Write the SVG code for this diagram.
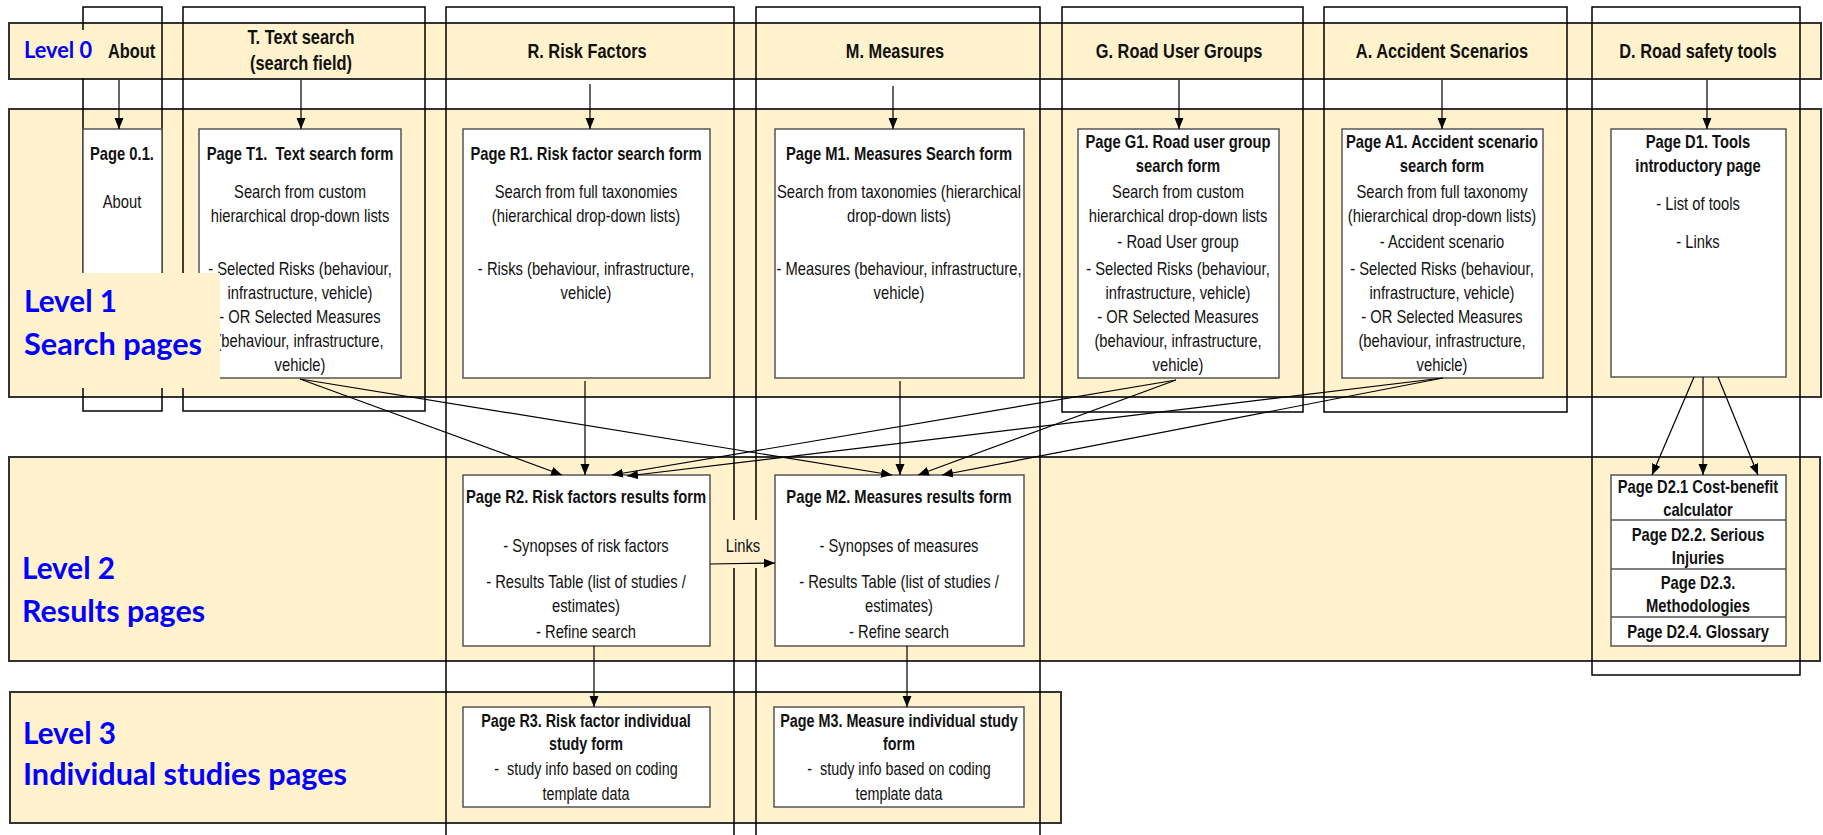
<svg xmlns="http://www.w3.org/2000/svg" width="1823" height="835" viewBox="0 0 1823 835">
<defs>
<marker id="ah" markerUnits="userSpaceOnUse" markerWidth="12" markerHeight="10" refX="11" refY="4.5" orient="auto">
<path d="M0,0 L11,4.5 L0,9 z" fill="#000"/>
</marker>
<style>
.band{fill:#FFF2CC;stroke:#333;stroke-width:2}
.col{fill:none;stroke:#000;stroke-width:1.5}
.box{fill:#fff;stroke:#555;stroke-width:1.5}
.cover{fill:#FFF2CC;stroke:none}
.t{font-family:"Liberation Sans Narrow","Liberation Sans",Arial,sans-serif;font-size:18px;text-anchor:middle;fill:#111}
.b{font-weight:bold}
.hd{font-family:"Liberation Sans Narrow","Liberation Sans",Arial,sans-serif;font-size:20px;font-weight:bold;text-anchor:middle;fill:#111}
.s3{font-size:17.5px}
.lvl{font-family:Lato,"Open Sans","Liberation Sans",sans-serif;font-weight:bold;font-size:30px;fill:#0000FF}
.pre{white-space:pre}
.cn{fill:none;stroke:#000;stroke-width:1.2;marker-end:url(#ah)}
</style>
</defs>
<rect width="1823" height="835" fill="#fff"/>
<g id="bands">
<rect class="band" x="9" y="23" width="1812" height="56"/>
<rect class="band" x="9" y="109" width="1812" height="288"/>
<rect class="band" x="9" y="457" width="1811" height="204"/>
<rect class="band" x="10" y="692" width="1051" height="131"/>
</g>
<g id="columns">
<rect class="col" x="83" y="7" width="79" height="404"/>
<rect class="col" x="183" y="7" width="242" height="404"/>
<rect class="col" x="446" y="7" width="288" height="840"/>
<rect class="col" x="756" y="7" width="284" height="840"/>
<rect class="col" x="1062" y="7" width="241" height="405"/>
<rect class="col" x="1324" y="7" width="243" height="405"/>
<rect class="col" x="1592" y="7" width="208" height="668"/>
</g>
<g id="headers">
<g transform="translate(108 0) scale(0.82 1)"><text class="hd" x="0" y="58" style="text-anchor:start">About</text></g>
<g transform="translate(301 0) scale(0.82 1)"><text class="hd" x="0" y="44">T. Text search</text><text class="hd" x="0" y="70">(search field)</text></g>
<g transform="translate(587 0) scale(0.82 1)"><text class="hd" x="0" y="58">R. Risk Factors</text></g>
<g transform="translate(895 0) scale(0.82 1)"><text class="hd" x="0" y="58">M. Measures</text></g>
<g transform="translate(1179 0) scale(0.82 1)"><text class="hd" x="0" y="58">G. Road User Groups</text></g>
<g transform="translate(1442 0) scale(0.82 1)"><text class="hd" x="0" y="58">A. Accident Scenarios</text></g>
<g transform="translate(1698 0) scale(0.82 1)"><text class="hd" x="0" y="58">D. Road safety tools</text></g>
</g>
<g id="page01">
<rect class="box" x="83" y="129" width="79" height="249"/>
<g transform="translate(122 0) scale(0.82 1)">
<text class="t b" x="0" y="160">Page 0.1.</text>
<text class="t" x="0" y="208">About</text>
</g>
</g>
<g id="pageT1">
<rect class="box" x="199" y="129" width="202" height="249"/>
<g transform="translate(300 0) scale(0.82 1)">
<text class="t b pre" x="0" y="160">Page T1.  Text search form</text>
<text class="t" x="0" y="198">Search from custom</text>
<text class="t" x="0" y="222">hierarchical drop-down lists</text>
<text class="t" x="0" y="275">- Selected Risks (behaviour,</text>
<text class="t" x="0" y="299">infrastructure, vehicle)</text>
<text class="t" x="0" y="323">- OR Selected Measures</text>
<text class="t" x="0" y="347">(behaviour, infrastructure,</text>
<text class="t" x="0" y="371">vehicle)</text>
</g>
</g>
<g id="pageR1">
<rect class="box" x="463" y="129" width="247" height="249"/>
<g transform="translate(586 0) scale(0.82 1)">
<text class="t b" x="0" y="160">Page R1. Risk factor search form</text>
<text class="t" x="0" y="198">Search from full taxonomies</text>
<text class="t" x="0" y="222">(hierarchical drop-down lists)</text>
<text class="t" x="0" y="275">- Risks (behaviour, infrastructure,</text>
<text class="t" x="0" y="299">vehicle)</text>
</g>
</g>
<g id="pageM1">
<rect class="box" x="775" y="129" width="249" height="249"/>
<g transform="translate(899 0) scale(0.82 1)">
<text class="t b" x="0" y="160">Page M1. Measures Search form</text>
<text class="t" x="0" y="198">Search from taxonomies (hierarchical</text>
<text class="t" x="0" y="222">drop-down lists)</text>
<text class="t" x="0" y="275">- Measures (behaviour, infrastructure,</text>
<text class="t" x="0" y="299">vehicle)</text>
</g>
</g>
<g id="pageG1">
<rect class="box" x="1078" y="129" width="201" height="249"/>
<g transform="translate(1178 0) scale(0.82 1)">
<text class="t b" x="0" y="148">Page G1. Road user group</text>
<text class="t b" x="0" y="172">search form</text>
<text class="t" x="0" y="198">Search from custom</text>
<text class="t" x="0" y="222">hierarchical drop-down lists</text>
<text class="t" x="0" y="248">- Road User group</text>
<text class="t" x="0" y="275">- Selected Risks (behaviour,</text>
<text class="t" x="0" y="299">infrastructure, vehicle)</text>
<text class="t" x="0" y="323">- OR Selected Measures</text>
<text class="t" x="0" y="347">(behaviour, infrastructure,</text>
<text class="t" x="0" y="371">vehicle)</text>
</g>
</g>
<g id="pageA1">
<rect class="box" x="1342" y="129" width="201" height="249"/>
<g transform="translate(1442 0) scale(0.82 1)">
<text class="t b" x="0" y="148">Page A1. Accident scenario</text>
<text class="t b" x="0" y="172">search form</text>
<text class="t" x="0" y="198">Search from full taxonomy</text>
<text class="t" x="0" y="222">(hierarchical drop-down lists)</text>
<text class="t" x="0" y="248">- Accident scenario</text>
<text class="t" x="0" y="275">- Selected Risks (behaviour,</text>
<text class="t" x="0" y="299">infrastructure, vehicle)</text>
<text class="t" x="0" y="323">- OR Selected Measures</text>
<text class="t" x="0" y="347">(behaviour, infrastructure,</text>
<text class="t" x="0" y="371">vehicle)</text>
</g>
</g>
<g id="pageD1">
<rect class="box" x="1611" y="129" width="175" height="248"/>
<g transform="translate(1698 0) scale(0.82 1)">
<text class="t b" x="0" y="148">Page D1. Tools</text>
<text class="t b" x="0" y="172">introductory page</text>
<text class="t" x="0" y="210">- List of tools</text>
<text class="t" x="0" y="248">- Links</text>
</g>
</g>
<g id="pageR2">
<rect class="box" x="463" y="475" width="247" height="171"/>
<g transform="translate(586 0) scale(0.82 1)">
<text class="t b" x="0" y="503">Page R2. Risk factors results form</text>
<text class="t" x="0" y="552">- Synopses of risk factors</text>
<text class="t" x="0" y="588">- Results Table (list of studies /</text>
<text class="t" x="0" y="612">estimates)</text>
<text class="t" x="0" y="638">- Refine search</text>
</g>
</g>
<g id="pageM2">
<rect class="box" x="775" y="475" width="249" height="171"/>
<g transform="translate(899 0) scale(0.82 1)">
<text class="t b" x="0" y="503">Page M2. Measures results form</text>
<text class="t" x="0" y="552">- Synopses of measures</text>
<text class="t" x="0" y="588">- Results Table (list of studies /</text>
<text class="t" x="0" y="612">estimates)</text>
<text class="t" x="0" y="638">- Refine search</text>
</g>
</g>
<g id="pageD2">
<rect class="box" x="1611" y="475" width="175" height="171"/>
<line x1="1611" y1="520" x2="1786" y2="520" stroke="#555" stroke-width="1.5"/>
<line x1="1611" y1="569" x2="1786" y2="569" stroke="#555" stroke-width="1.5"/>
<line x1="1611" y1="617" x2="1786" y2="617" stroke="#555" stroke-width="1.5"/>
<g transform="translate(1698 0) scale(0.82 1)">
<text class="t b" x="0" y="493">Page D2.1 Cost-benefit</text>
<text class="t b" x="0" y="516">calculator</text>
<text class="t b" x="0" y="541">Page D2.2. Serious</text>
<text class="t b" x="0" y="564">Injuries</text>
<text class="t b" x="0" y="589">Page D2.3.</text>
<text class="t b" x="0" y="612">Methodologies</text>
<text class="t b" x="0" y="638">Page D2.4. Glossary</text>
</g>
</g>
<g id="pageR3">
<rect class="box" x="463" y="707" width="247" height="100"/>
<g transform="translate(586 0) scale(0.82 1)">
<text class="t b s3" x="0" y="727">Page R3. Risk factor individual</text>
<text class="t b s3" x="0" y="750">study form</text>
<text class="t s3 pre" x="0" y="775">-  study info based on coding</text>
<text class="t s3" x="0" y="800">template data</text>
</g>
</g>
<g id="pageM3">
<rect class="box" x="774" y="707" width="250" height="100"/>
<g transform="translate(899 0) scale(0.82 1)">
<text class="t b s3" x="0" y="727">Page M3. Measure individual study</text>
<text class="t b s3" x="0" y="750">form</text>
<text class="t s3 pre" x="0" y="775">-  study info based on coding</text>
<text class="t s3" x="0" y="800">template data</text>
</g>
</g>
<g id="level0">
<rect class="cover" x="10" y="30" width="92" height="48"/>
<text class="lvl" x="24" y="58" style="font-size:22px" textLength="68" lengthAdjust="spacingAndGlyphs">Level 0</text>
</g>
<g id="level1">
<rect class="cover" x="10" y="273" width="210" height="115"/>
<text class="lvl" x="24" y="312" textLength="93" lengthAdjust="spacingAndGlyphs">Level 1</text>
<text class="lvl" x="24" y="355" textLength="178" lengthAdjust="spacingAndGlyphs">Search pages</text>
</g>
<g id="level2">
<text class="lvl" x="22" y="579" textLength="93" lengthAdjust="spacingAndGlyphs">Level 2</text>
<text class="lvl" x="22" y="622" textLength="183" lengthAdjust="spacingAndGlyphs">Results pages</text>
</g>
<g id="level3">
<text class="lvl" x="23" y="744" textLength="93" lengthAdjust="spacingAndGlyphs">Level 3</text>
<text class="lvl" x="23" y="785" textLength="324" lengthAdjust="spacingAndGlyphs">Individual studies pages</text>
</g>
<g id="links">
<rect class="cover" x="722" y="520" width="42" height="48"/>
<g transform="translate(743 0) scale(0.82 1)"><text class="t" x="0" y="552">Links</text></g>
</g>
<g id="connectors">
<line class="cn" x1="119" y1="80" x2="119" y2="129"/>
<line class="cn" x1="301" y1="80" x2="301" y2="129"/>
<line class="cn" x1="590" y1="84" x2="590" y2="129"/>
<line class="cn" x1="893" y1="86" x2="893" y2="129"/>
<line class="cn" x1="1179" y1="80" x2="1179" y2="129"/>
<line class="cn" x1="1442" y1="80" x2="1442" y2="129"/>
<line class="cn" x1="1707" y1="80" x2="1707" y2="129"/>
<line class="cn" x1="300" y1="379" x2="562" y2="475"/>
<line class="cn" x1="300" y1="379" x2="892" y2="475"/>
<line class="cn" x1="585" y1="381" x2="585" y2="475"/>
<line class="cn" x1="900" y1="381" x2="900" y2="475"/>
<line class="cn" x1="1176" y1="380" x2="612" y2="475"/>
<line class="cn" x1="1176" y1="380" x2="918" y2="475"/>
<line class="cn" x1="1443" y1="378" x2="627" y2="476"/>
<line class="cn" x1="1443" y1="378" x2="942" y2="475"/>
<line class="cn" x1="1694" y1="377" x2="1652" y2="475"/>
<line class="cn" x1="1703" y1="377" x2="1703" y2="475"/>
<line class="cn" x1="1718" y1="377" x2="1758" y2="475"/>
<line class="cn" x1="594" y1="646" x2="594" y2="707"/>
<line class="cn" x1="907" y1="646" x2="907" y2="707"/>
<line class="cn" x1="710" y1="564" x2="775" y2="563"/>
</g>
</svg>
